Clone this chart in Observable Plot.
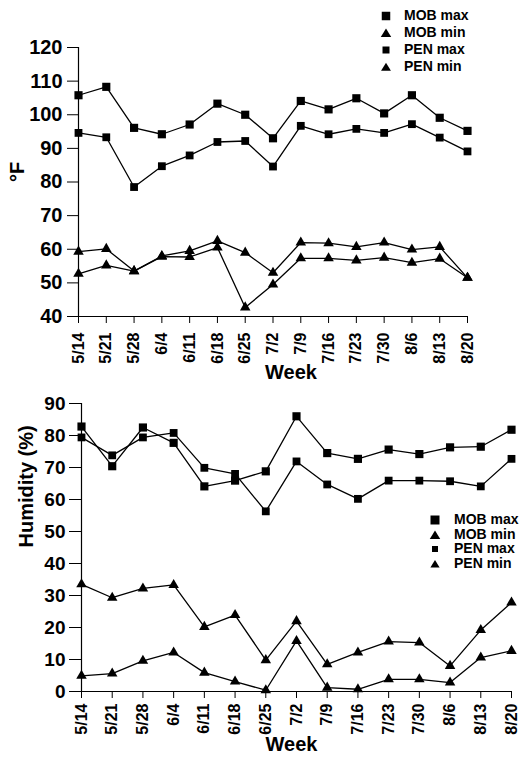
<!DOCTYPE html>
<html><head><meta charset="utf-8">
<script src="https://cdn.jsdelivr.net/npm/d3@7"></script>
<script src="https://cdn.jsdelivr.net/npm/@observablehq/plot@0.6"></script>
<style>
body{margin:0;background:#fff;}
#wrap{position:relative;width:520px;height:759px;overflow:hidden;font-family:"Liberation Sans",Arial,sans-serif;font-weight:bold;color:#000;}
#wrap svg.plot{display:block;}
.lg{position:absolute;white-space:nowrap;line-height:1;}
</style></head><body><div id="wrap"></div>
<script>
const weeks = ["5/14","5/21","5/28","6/4","6/11","6/18","6/25","7/2","7/9","7/16","7/23","7/30","8/6","8/13","8/20"];
const seriesNames = ["MOB max","MOB min","PEN max","PEN min"];

const tempTicks = [40,50,60,70,80,90,100,110,120];
const tempMobMax = [105.8,108.3,96.1,94.2,97.1,103.3,100.0,93.0,104.1,101.6,104.9,100.4,105.8,99.1,95.2];
const tempPenMax = [94.6,93.3,78.5,84.7,87.9,91.9,92.2,84.6,96.7,94.2,95.8,94.6,97.2,93.2,89.1];
const tempMobMin = [59.3,60.1,53.5,58.0,59.5,62.5,59.0,53.0,62.0,61.8,60.7,62.0,59.9,60.7,51.5];
const tempPenMin = [52.7,55.2,53.5,57.8,57.7,60.5,42.7,49.5,57.3,57.3,56.7,57.5,56.0,57.2,51.5];

const humTicks = [0,10,20,30,40,50,60,70,80,90];
const humMobMax = [82.8,70.4,82.5,77.7,64.1,65.9,68.8,86.0,74.5,72.7,75.6,74.2,76.3,76.5,81.8];
const humPenMax = [79.4,73.8,79.4,80.8,69.9,68.0,56.3,71.9,64.7,60.2,65.9,65.9,65.7,64.1,72.7];
const humMobMin = [33.5,29.3,32.2,33.3,20.2,23.9,9.8,22.0,8.5,12.2,15.6,15.3,8.0,19.2,27.8];
const humPenMin = [4.9,5.6,9.6,12.2,5.9,3.1,0.4,15.8,1.2,0.7,3.8,3.8,2.8,10.6,12.7];

const idx = weeks.map((w, i) => i);
const FONT = '"Liberation Sans", Arial, sans-serif';

function seriesMarks(list) {
  const marks = [];
  for (const s of list) {
    const rows = s.values.map((v, i) => ({i, v}));
    marks.push(Plot.line(rows, {x: "i", y: "v", stroke: "#000", strokeWidth: 1.3}));
    marks.push(Plot.dot(rows, {x: "i", y: "v", symbol: s.symbol, r: s.r, fill: "#000", stroke: "none"}));
  }
  return marks;
}

function panel(o) {
  return Plot.plot({
    width: 520, height: o.height,
    marginLeft: o.ml, marginRight: o.mr, marginTop: o.mt, marginBottom: o.mb,
    style: {fontFamily: FONT, fontWeight: "bold", background: "#fff", overflow: "visible"},
    x: {domain: [0, weeks.length - 1]},
    y: {domain: [o.ticks[0], o.ticks[o.ticks.length - 1]]},
    marks: [
      Plot.axisY({ticks: o.ticks, tickSize: o.ytickSize, tickPadding: o.ytickPad, fontSize: o.yfs, fontWeight: "bold", label: null, stroke: "#000", strokeWidth: 1}),
      Plot.axisX({ticks: idx, tickFormat: i => weeks[i], tickRotate: -90, tickSize: 7, tickPadding: o.xtickPad, fontSize: 16, fontWeight: "bold", label: null, stroke: "#000"}),
      Plot.ruleX([0], {stroke: "#000", strokeWidth: 1.2}),
      Plot.ruleY([o.ticks[0]], {stroke: "#000", strokeWidth: 1.2}),
      ...seriesMarks(o.series),
      Plot.text([o.ylabel], {text: d => d, frameAnchor: "left", rotate: -90, dx: o.ylabelDx, fontSize: o.ylabelFs, fontWeight: "bold"}),
      Plot.text(["Week"], {text: d => d, frameAnchor: "bottom", dy: o.weekDy, dx: o.weekDx, fontSize: 20, fontWeight: "bold"})
    ]
  });
}

const wrap = document.getElementById("wrap");

const tempChart = panel({
  height: 392, ml: 78, mr: 53, mt: 47, mb: 76, ticks: tempTicks,
  ytickSize: 11, ytickPad: 5, yfs: 20, xtickPad: 9,
  ylabel: "°F", ylabelDx: -61, ylabelFs: 20, weekDy: 62, weekDx: 18,
  series: [
    {values: tempMobMax, symbol: "square", r: 4.6},
    {values: tempPenMax, symbol: "square", r: 4.4},
    {values: tempMobMin, symbol: "triangle", r: 3.9},
    {values: tempPenMin, symbol: "triangle", r: 3.9}
  ]
});
tempChart.classList.add("plot");
wrap.appendChild(tempChart);

const humChart = panel({
  height: 367, ml: 81, mr: 9, mt: 11, mb: 68, ticks: humTicks,
  ytickSize: 12, ytickPad: 4, yfs: 19, xtickPad: 5,
  ylabel: "Humidity (%)", ylabelDx: -55, ylabelFs: 20, weekDy: 59, weekDx: -5,
  series: [
    {values: humMobMax, symbol: "square", r: 4.6},
    {values: humPenMax, symbol: "square", r: 4.4},
    {values: humMobMin, symbol: "triangle", r: 3.9},
    {values: humPenMin, symbol: "triangle", r: 3.9}
  ]
});
humChart.classList.add("plot");
wrap.appendChild(humChart);

// Legends (HTML overlays)
const legendSymbols = ["square", "triangle", "square", "triangle"];
function legend(o) {
  seriesNames.forEach((name, k) => {
    const cy = o.y0 + k * o.step;
    const sz = o.sizes[k];
    const ns = "http://www.w3.org/2000/svg";
    const svg = document.createElementNS(ns, "svg");
    svg.setAttribute("width", 14); svg.setAttribute("height", 14);
    svg.setAttribute("class", "lg");
    svg.style.left = (o.symX - 7) + "px";
    svg.style.top = (cy - 7) + "px";
    const p = document.createElementNS(ns, "path");
    const d = legendSymbols[k] === "square"
      ? `M${7 - sz / 2},${7 - sz / 2}h${sz}v${sz}h${-sz}Z`
      : `M7,${7 - sz * 0.5}L${7 + sz * 0.58},${7 + sz * 0.45}L${7 - sz * 0.58},${7 + sz * 0.45}Z`;
    p.setAttribute("d", d); p.setAttribute("fill", "#000");
    svg.appendChild(p);
    wrap.appendChild(svg);
    const t = document.createElement("div");
    t.className = "lg";
    t.textContent = name;
    t.style.left = o.textX + "px";
    t.style.top = (cy - o.fs * 0.55) + "px";
    t.style.fontSize = o.fs + "px";
    wrap.appendChild(t);
  });
}
legend({y0: 15.5, step: 17, symX: 386, textX: 404, fs: 14, sizes: [8.5, 9, 7, 8.5]});
legend({y0: 520, step: 14.5, symX: 435, textX: 454, fs: 14, sizes: [9, 9, 6, 8]});
</script>
</body></html>
